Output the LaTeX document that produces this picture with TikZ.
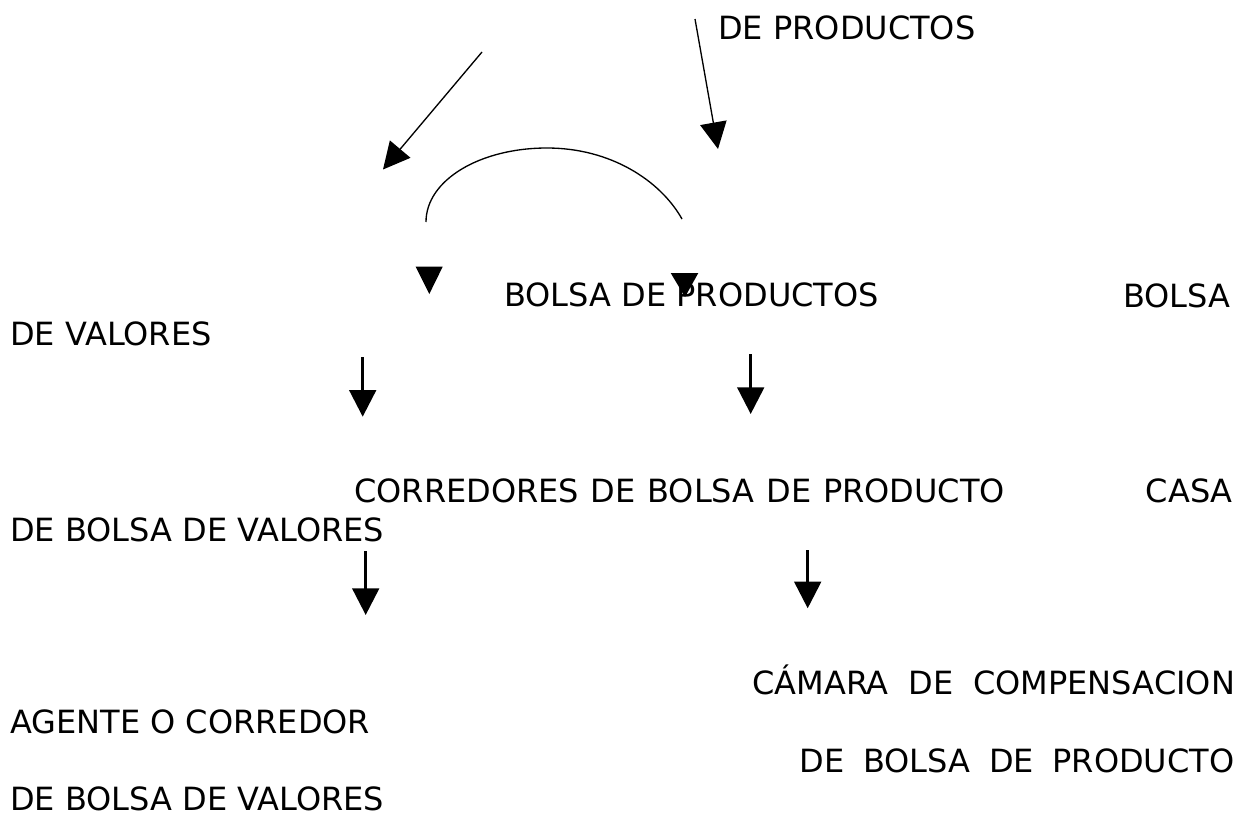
\documentclass[tikz,border=0pt]{standalone}
\usepackage{fontspec}
\setmainfont{DejaVu Sans}
\usetikzlibrary{arrows.meta}
\begin{document}
\begin{tikzpicture}[x=0.75pt,y=-0.75pt,
  lbl/.style={anchor=base west,inner sep=0pt,font=\fontsize{24pt}{28pt}\selectfont},
  head/.style={-{Triangle[length=20pt,width=20pt]}},
  thinarr/.style={head,line width=1pt},
  vertarr/.style={head,line width=2.2pt},
  curve/.style={line width=1pt},
  loosehead/.style={fill=black}]
\useasboundingbox[fill=white] (0,0) rectangle (1252,817);

% texts
\node[lbl] (t1) at (718,40) {DE PRODUCTOS};
\node[lbl] (t2) at (504,306.5) {BOLSA DE PRODUCTOS};
\node[lbl] (t3) at (1123,307) {BOLSA};
\node[lbl] (t4) at (10,345) {DE VALORES};
\node[lbl] (t5) at (354,502) {\makebox[488pt][s]{CORREDORES DE BOLSA DE PRODUCTO}};
\node[lbl] (t6) at (1145.5,502) {CASA};
\node[lbl] (t7) at (10,541.5) {DE BOLSA DE VALORES};
\node[lbl] (t8) at (752,694) {\makebox[362pt][s]{CÁMARA DE COMPENSACION}};
\node[lbl] (t9) at (10,733) {AGENTE O CORREDOR};
\node[lbl] (t10) at (799.5,772) {\makebox[326pt][s]{DE BOLSA DE PRODUCTO}};
\node[lbl] (t11) at (10,810) {DE BOLSA DE VALORES};

% coordinates for the connectors
\coordinate (d1s) at (482,52);   \coordinate (d1e) at (383,169.5);
\coordinate (d2s) at (695,19);   \coordinate (d2e) at (718,149);
\coordinate (cl) at (426,222);   \coordinate (ct) at (547,148);  \coordinate (cr) at (682,219);
\coordinate (v1s) at (362.7,357); \coordinate (v1e) at (362.7,416.7);
\coordinate (v2s) at (750.7,354); \coordinate (v2e) at (750.7,414);
\coordinate (v3s) at (365.7,551); \coordinate (v3e) at (365.7,615);
\coordinate (v4s) at (807.7,550); \coordinate (v4e) at (807.7,608.3);

% diagonal arrows
\draw[thinarr] (d1s) -- (d1e);
\draw[thinarr] (d2s) -- (d2e);

% arc
\draw[curve] (cl) .. controls (426,180) and (480,148) .. (ct)
             .. controls (610,148) and (660,180) .. (cr);

% loose arrowheads
\fill[loosehead] (415.7,266.7) -- (442.7,266.7) -- (429.3,294) -- cycle;
\fill[loosehead] (670.7,273) -- (698.3,273) -- (685,297) -- cycle;

% vertical arrows
\draw[vertarr] (v1s) -- (v1e);
\draw[vertarr] (v2s) -- (v2e);
\draw[vertarr] (v3s) -- (v3e);
\draw[vertarr] (v4s) -- (v4e);
\end{tikzpicture}
\end{document}
